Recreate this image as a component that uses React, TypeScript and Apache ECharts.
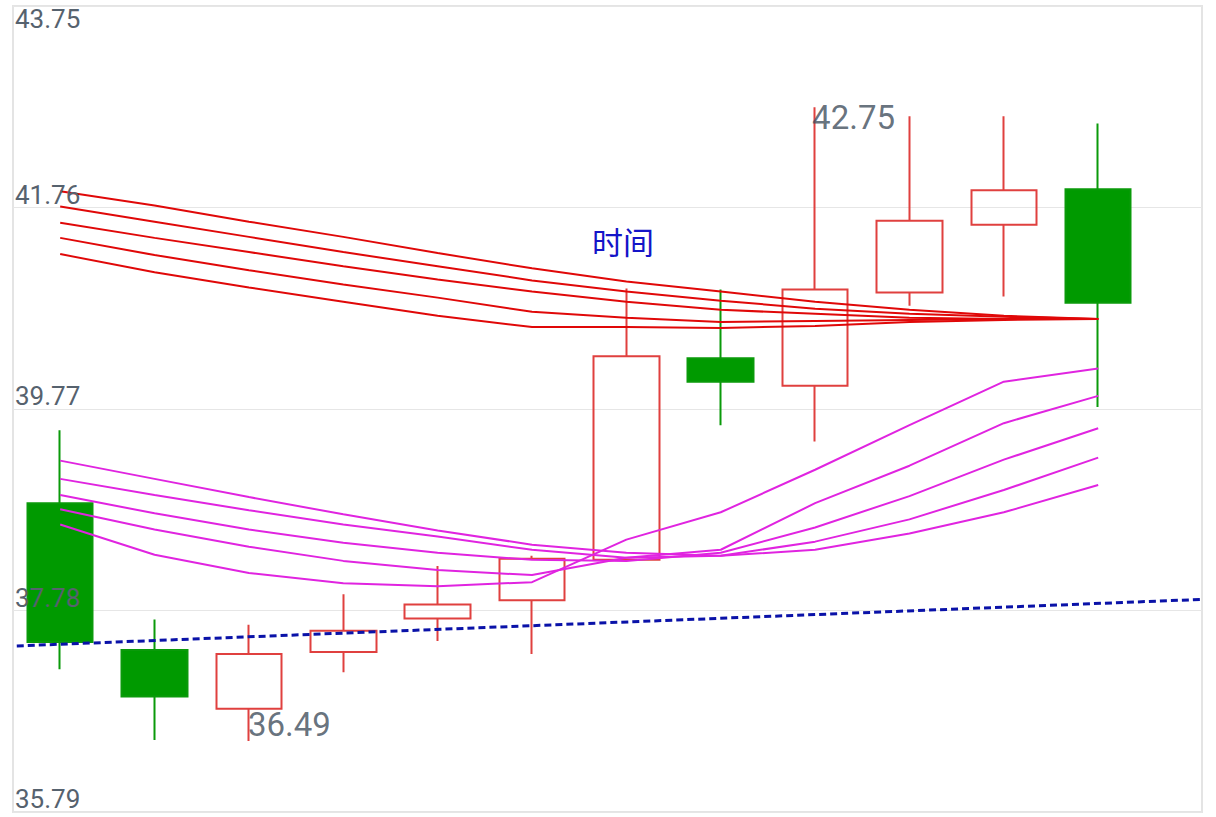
import React, { useEffect, useRef } from "react";
import * as echarts from "echarts";

// ---- data ----
const candleIndex = [0, 1, 2, 3, 4, 5, 6, 7, 8, 9, 10, 11];
const opens = [38.84, 37.39, 36.81, 37.37, 37.7, 37.88, 38.28, 40.27, 40.0, 40.92, 41.59, 41.94];
const closes = [37.47, 36.93, 37.35, 37.58, 37.84, 38.29, 40.29, 40.04, 40.95, 41.63, 41.93, 40.82];
const lows = [37.2, 36.5, 36.49, 37.17, 37.48, 37.35, 38.27, 39.61, 39.45, 40.79, 40.88, 39.79];
const highs = [39.56, 37.69, 37.64, 37.94, 38.22, 38.32, 40.96, 40.95, 42.75, 42.66, 42.66, 42.59];

const redLines = [
  [41.92, 41.78, 41.62, 41.47, 41.31, 41.16, 41.03, 40.93, 40.83, 40.75, 40.69, 40.66],
  [41.77, 41.62, 41.47, 41.32, 41.18, 41.04, 40.93, 40.84, 40.76, 40.71, 40.68, 40.66],
  [41.61, 41.46, 41.32, 41.18, 41.05, 40.93, 40.83, 40.75, 40.71, 40.67, 40.66, 40.66],
  [41.46, 41.29, 41.14, 41.0, 40.87, 40.73, 40.67, 40.63, 40.64, 40.65, 40.66, 40.66],
  [41.3, 41.12, 40.97, 40.83, 40.69, 40.58, 40.58, 40.57, 40.59, 40.63, 40.65, 40.66],
];

const magentaLines = [
  [39.26, 39.08, 38.9, 38.73, 38.57, 38.43, 38.35, 38.32, 38.38, 38.54, 38.75, 39.02],
  [39.08, 38.92, 38.77, 38.63, 38.51, 38.38, 38.3, 38.32, 38.46, 38.68, 38.97, 39.29],
  [38.92, 38.74, 38.58, 38.45, 38.35, 38.28, 38.27, 38.35, 38.6, 38.91, 39.27, 39.58],
  [38.78, 38.58, 38.41, 38.27, 38.18, 38.13, 38.3, 38.38, 38.84, 39.21, 39.63, 39.9],
  [38.63, 38.33, 38.15, 38.05, 38.02, 38.06, 38.48, 38.75, 39.17, 39.61, 40.04, 40.17],
];

const trendX = [-0.46, 12.1];
const trendY = [37.43, 37.89];

const yMin = 35.79;
const yMax = 43.75;
const yStep = 1.99;
const titleText = "时间";

export default function App() {
  const ref = useRef<HTMLDivElement>(null);

  useEffect(() => {
    if (!ref.current) return;
    const chart = echarts.init(ref.current, undefined, { renderer: "svg" });

    const candleData = candleIndex.map((i) => [i, opens[i], closes[i], lows[i], highs[i]]);
    let maxIdx = 0;
    let minIdx = 0;
    highs.forEach((h, i) => { if (h > highs[maxIdx]) maxIdx = i; });
    lows.forEach((l, i) => { if (l < lows[minIdx]) minIdx = i; });

    const labelFont = {
      color: "#3f4e5c",
      fontSize: 33,
      fontWeight: "normal",
      fontFamily: "Roboto",
    };

    const isTop = (v: number) => Math.abs(v - yMax) < 0.001;

    const series: any[] = [
      {
        type: "candlestick",
        data: candleData,
        barWidth: 66,
        itemStyle: {
          color: "rgba(255,255,255,0)",
          color0: "#009a00",
          borderColor: "#e0403f",
          borderColor0: "#0a9a0a",
          borderWidth: 2,
        },
      },
    ];

    redLines.forEach((arr) => {
      series.push({
        type: "line",
        data: arr.map((v, i) => [candleIndex[i], v]),
        symbol: "none",
        lineStyle: { color: "#e00808", width: 2 },
      });
    });
    magentaLines.forEach((arr) => {
      series.push({
        type: "line",
        data: arr.map((v, i) => [candleIndex[i], v]),
        symbol: "none",
        lineStyle: { color: "#e024e0", width: 2 },
      });
    });
    series.push({
      type: "line",
      data: trendX.map((x, i) => [x, trendY[i]]),
      symbol: "none",
      lineStyle: { color: "#0a12a8", width: 3, type: [7, 4] },
    });
    series.push({
      type: "scatter",
      symbolSize: 0,
      data: [[candleIndex[maxIdx], highs[maxIdx]]],
      label: {
        show: true,
        position: [-3, -6],
        align: "left",
        verticalAlign: "top",
        formatter: (p: any) => p.value[1].toFixed(2),
        ...labelFont,
      },
    });
    series.push({
      type: "scatter",
      symbolSize: 0,
      data: [[candleIndex[minIdx], lows[minIdx]]],
      label: {
        show: true,
        position: [-1, 0],
        align: "left",
        verticalAlign: "bottom",
        formatter: (p: any) => p.value[1].toFixed(2),
        ...labelFont,
      },
    });

    const axisLabelBase = {
      inside: true,
      margin: 2,
      color: "#56626e",
      fontSize: 26,
      fontFamily: "Roboto",
    };

    const yBase = {
      type: "value",
      position: "left",
      min: yMin,
      max: yMax,
      interval: yStep,
      axisLine: { show: false },
      axisTick: { show: false },
    };

    chart.setOption({
      animation: false,
      backgroundColor: "#ffffff",
      title: {
        text: titleText,
        left: 587,
        top: 220,
        textStyle: {
          color: "#1414c8",
          fontSize: 31,
          fontWeight: "normal",
          fontFamily: "Noto Sans CJK SC",
        },
      },
      grid: {
        left: 13,
        right: 14,
        top: 6,
        bottom: 5,
        show: true,
        borderColor: "#e4e4e4",
        borderWidth: 2,
        backgroundColor: "#ffffff",
      },
      xAxis: {
        type: "value",
        min: -0.5,
        max: 12.1,
        show: false,
        splitLine: { show: false },
      },
      yAxis: [
        {
          ...yBase,
          z: 0,
          splitLine: { show: true, lineStyle: { color: "#e6e6e6", width: 1 } },
          axisLabel: { show: false },
        },
        {
          ...yBase,
          z: 10,
          splitLine: { show: false },
          axisLabel: {
            ...axisLabelBase,
            verticalAlign: "bottom",
            formatter: (v: number) => (isTop(v) ? "" : v.toFixed(2)),
          },
        },
        {
          ...yBase,
          z: 10,
          splitLine: { show: false },
          axisLabel: {
            ...axisLabelBase,
            verticalAlign: "top",
            formatter: (v: number) => (isTop(v) ? v.toFixed(2) : ""),
          },
        },
      ],
      series,
    });

    return () => chart.dispose();
  }, []);

  return (
    <div
      ref={ref}
      style={{ position: "fixed", left: 0, top: 0, width: 1216, height: 817, background: "#fff" }}
    />
  );
}
